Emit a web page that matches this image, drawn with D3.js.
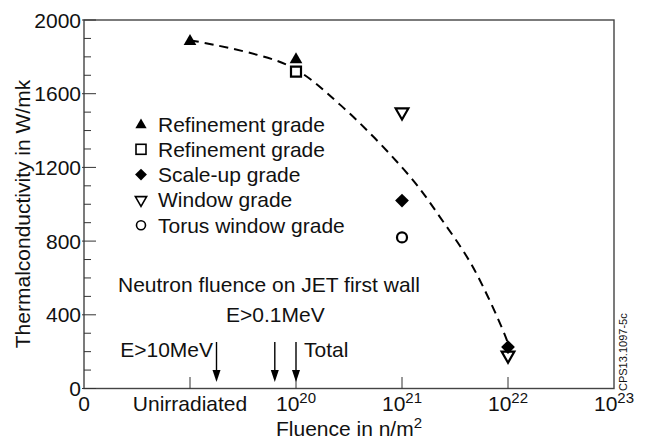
<!DOCTYPE html>
<html><head><meta charset="utf-8">
<script src="https://cdn.jsdelivr.net/npm/d3@7"></script>
<style>
body{margin:0;background:#fff;}
svg{display:block;}
text{font-family:"Liberation Sans",Arial,Helvetica,sans-serif;fill:#111;}
</style></head><body>
<svg id="c" width="646" height="440"></svg>
<script>
// x positions are log10 of fluence; 18 = "0", 19 = "Unirradiated"
const xTickValues = [18, 19, 20, 21, 22, 23];
const xTickLabels = [["0",""],["Unirradiated",""],["10","20"],["10","21"],["10","22"],["10","23"]];
const yMajorTicks = [0, 400, 800, 1200, 1600, 2000];
const yMinorTicks = d3.range(0, 2001, 100);

const refTriX = [19, 20];           const refTriY = [1890, 1790];
const refSqX = [20];                const refSqY = [1720];
const scaleUpX = [21, 22];          const scaleUpY = [1020, 225];
const windowX = [21, 22];           const windowY = [1500, 180];
const torusX = [21];                const torusY = [820];

const curveX = [19.0, 19.92, 20.42, 21.08, 21.36, 21.67, 21.99, 22.0];
const curveY = [1890, 1755, 1538, 1147, 929, 658, 261, 234];

const legendLabels = ["Refinement grade","Refinement grade","Scale-up grade","Window grade","Torus window grade"];
const arrowX = [19.25, 19.8, 20.0];
const arrowLabels = ["E>10MeV","E>0.1MeV","Total"];

const svg = d3.select("#c");
const x = d3.scaleLinear().domain([18, 23]).range([84, 614]);
const y = d3.scaleLinear().domain([0, 2000]).range([388.5, 20]);
const FS = 21;

// frame
svg.append("rect").attr("x",84).attr("y",20).attr("width",530).attr("height",368.5)
  .attr("fill","none").attr("stroke","#444").attr("stroke-width",1.4);

// y ticks
svg.selectAll(".ymin").data(yMinorTicks).enter().append("line")
  .attr("x1", d => yMajorTicks.includes(d) ? 82 : 84).attr("x2", d => yMajorTicks.includes(d) ? 96 : 91)
  .attr("y1", d=>y(d)).attr("y2", d=>y(d)).attr("stroke","#333").attr("stroke-width",1);
svg.selectAll(".ylab").data(yMajorTicks).enter().append("text")
  .attr("x",81).attr("y",d=>y(d)).attr("dy","0.36em").attr("text-anchor","end")
  .attr("font-size",FS).text(d=>d);

// x ticks
svg.selectAll(".xt").data(xTickValues.slice(1,5)).enter().append("line")
  .attr("x1",d=>x(d)).attr("x2",d=>x(d)).attr("y1",388.5).attr("y2",377)
  .attr("stroke","#333").attr("stroke-width",1);
const xl = svg.selectAll(".xl").data(xTickValues).enter().append("text")
  .attr("x",d=>x(d)).attr("y",411).attr("text-anchor","middle").attr("font-size",FS);
xl.each(function(d,i){
  const t = d3.select(this);
  t.append("tspan").text(xTickLabels[i][0]);
  if (xTickLabels[i][1]) t.append("tspan").attr("dy",-8).attr("font-size",15).text(xTickLabels[i][1]);
});

// axis titles
svg.append("text").attr("transform","translate(30,214) rotate(-90)").attr("text-anchor","middle")
  .attr("font-size",FS).text("Thermalconductivity in W/mk");
const xt = svg.append("text").attr("x",349).attr("y",436).attr("text-anchor","middle").attr("font-size",FS);
xt.append("tspan").text("Fluence in n/m");
xt.append("tspan").attr("dy",-8).attr("font-size",15).text("2");

// dashed curve
svg.append("path").datum(curveX.map((v,i)=>[v,curveY[i]]))
  .attr("d", d3.line().x(d=>x(d[0])).y(d=>y(d[1])).curve(d3.curveCatmullRom))
  .attr("fill","none").attr("stroke","#000").attr("stroke-width",2).attr("stroke-dasharray","9,6");

// markers
const tri = d3.symbol().type(d3.symbolTriangle).size(70);
const sq = d3.symbol().type(d3.symbolSquare).size(100);
const dia = d3.symbol().type(d3.symbolSquare).size(95);
function pts(xs, ys){ return xs.map((v,i)=>[v, ys[i]]); }
svg.selectAll(".rt").data(pts(refTriX,refTriY)).enter().append("path")
  .attr("d",tri).attr("transform",d=>`translate(${x(d[0])},${y(d[1])+1})`).attr("fill","#000");
svg.selectAll(".rs").data(pts(refSqX,refSqY)).enter().append("path")
  .attr("d",sq).attr("transform",d=>`translate(${x(d[0])},${y(d[1])})`)
  .attr("fill","#fff").attr("stroke","#000").attr("stroke-width",2.2);
svg.selectAll(".wg").data(pts(windowX,windowY)).enter().append("path")
  .attr("d",tri).attr("transform",d=>`translate(${x(d[0])},${y(d[1])}) rotate(180)`)
  .attr("fill","#fff").attr("stroke","#000").attr("stroke-width",2.2);
svg.selectAll(".su").data(pts(scaleUpX,scaleUpY)).enter().append("path")
  .attr("d",dia).attr("transform",d=>`translate(${x(d[0])},${y(d[1])}) rotate(45)`).attr("fill","#000");
svg.selectAll(".tw").data(pts(torusX,torusY)).enter().append("circle")
  .attr("cx",d=>x(d[0])).attr("cy",d=>y(d[1])).attr("r",5)
  .attr("fill","#fff").attr("stroke","#000").attr("stroke-width",2.2);

// legend
const lx = 141, ly0 = 124, ldy = 25.3;
const lg = svg.append("g");
const ltri = d3.symbol().type(d3.symbolTriangle).size(55);
lg.append("path").attr("d",ltri).attr("transform",`translate(${lx},${ly0+1})`).attr("fill","#000");
lg.append("rect").attr("x",lx-5).attr("y",ly0+ldy-5).attr("width",10).attr("height",10)
  .attr("fill","#fff").attr("stroke","#000").attr("stroke-width",1.6);
lg.append("path").attr("d",d3.symbol().type(d3.symbolSquare).size(70))
  .attr("transform",`translate(${lx},${ly0+2*ldy}) rotate(45)`).attr("fill","#000");
lg.append("path").attr("d",ltri).attr("transform",`translate(${lx},${ly0+3*ldy}) rotate(180)`)
  .attr("fill","#fff").attr("stroke","#000").attr("stroke-width",1.6);
lg.append("circle").attr("cx",lx).attr("cy",ly0+4*ldy).attr("r",4.5)
  .attr("fill","#fff").attr("stroke","#000").attr("stroke-width",1.6);
lg.selectAll("text").data(legendLabels).enter().append("text")
  .attr("x",158).attr("y",(d,i)=>ly0+i*ldy).attr("dy","0.36em").attr("font-size",FS).text(d=>d);

// neutron fluence annotation
svg.append("text").attr("x",118).attr("y",292).attr("font-size",FS).text("Neutron fluence on JET first wall");
svg.append("text").attr("x",226).attr("y",322).attr("font-size",FS).text(arrowLabels[1]);
svg.append("text").attr("x",213).attr("y",357).attr("text-anchor","end").attr("font-size",FS).text(arrowLabels[0]);
svg.append("text").attr("x",304).attr("y",357).attr("font-size",FS).text(arrowLabels[2]);
const ar = svg.selectAll(".ar").data(arrowX).enter().append("g");
ar.append("line").attr("x1",d=>x(d)).attr("x2",d=>x(d)).attr("y1",342).attr("y2",372)
  .attr("stroke","#000").attr("stroke-width",1.4);
ar.append("path").attr("d",d=>`M${x(d)-4},${370}L${x(d)+4},${370}L${x(d)},${382}Z`).attr("fill","#000");

// figure code
svg.append("text").attr("transform","translate(627,391) rotate(-90)").attr("font-size",11)
  .text("CPS13.1097-5c");
</script>
</body></html>
